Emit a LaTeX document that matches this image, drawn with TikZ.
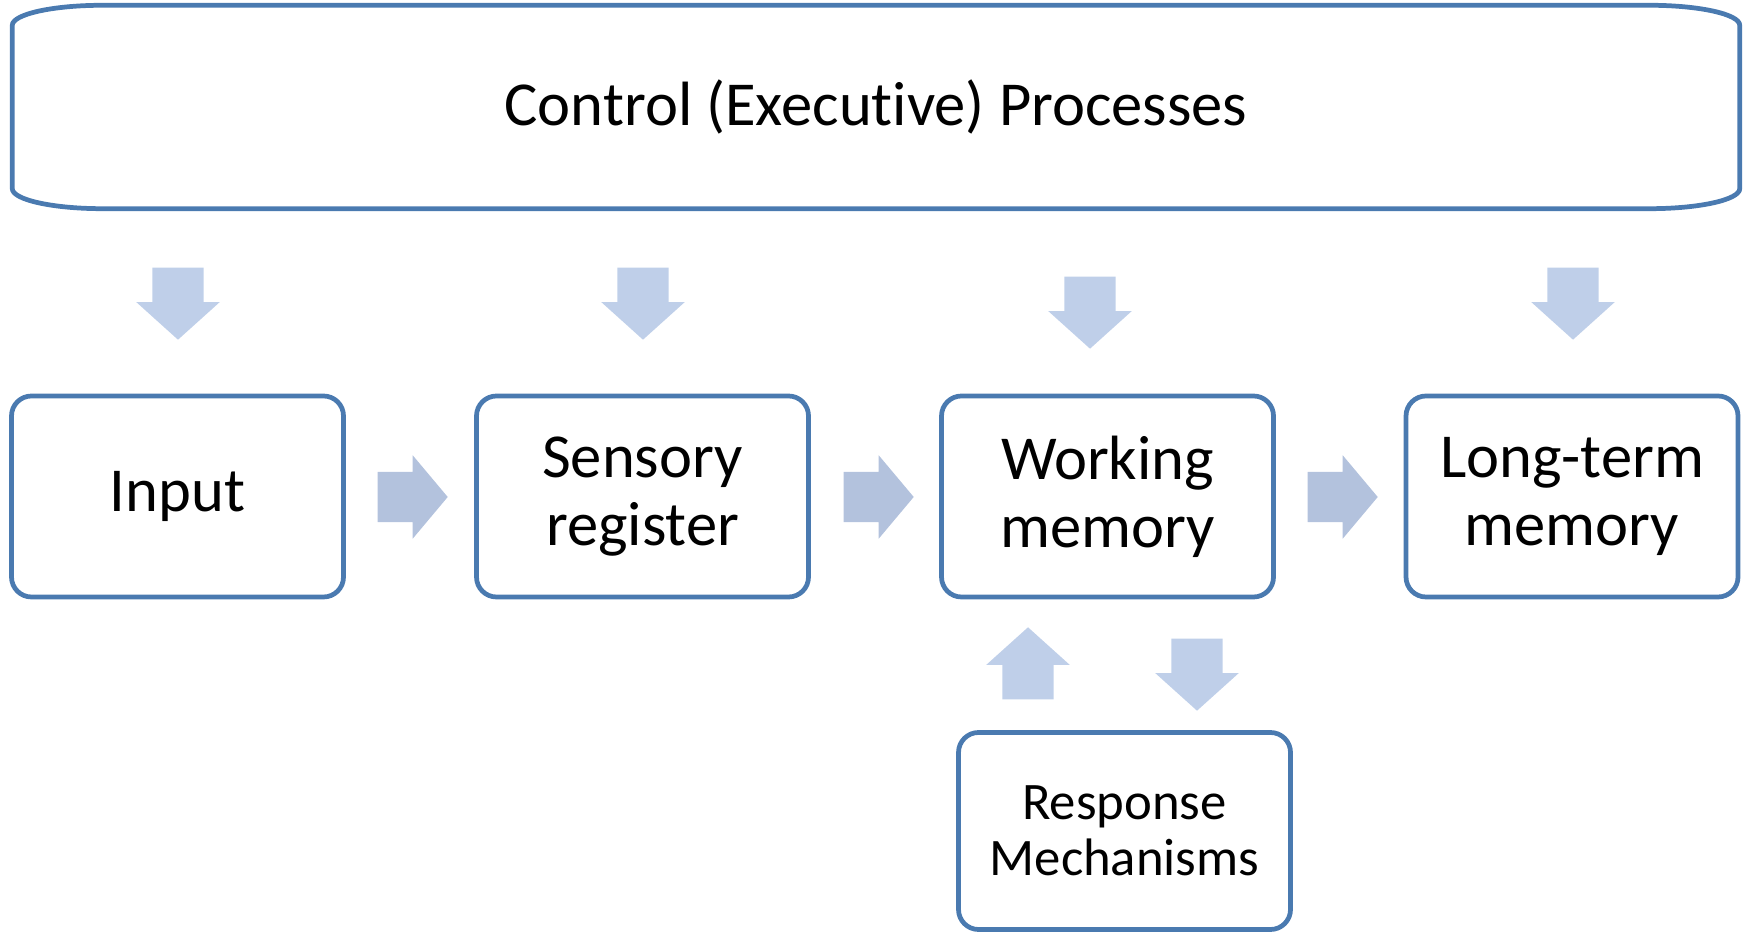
\documentclass[tikz,border=0pt]{standalone}
\usepackage{fontspec}
\setmainfont{Carlito}[Ligatures=NoCommon]
\usepackage{xcolor}
\definecolor{boxblue}{HTML}{4A7AB0}
\definecolor{arrowblue}{HTML}{BFCFE9}
\definecolor{sideblue}{HTML}{B3C2DD}
\usepackage{tikz}
\usetikzlibrary{
  shapes.arrows,
  positioning,
  calc
}

\begin{document}
\begin{tikzpicture}[
  box/.style={rectangle, draw=boxblue, line width=1.35pt, rounded corners=0.2cm, minimum width=3.32cm, minimum height=2.01cm, inner sep=0pt, align=center, font=\fontsize{17.8}{19.3}\selectfont},
  vert/.style={single arrow, fill=arrowblue, draw=none, inner xsep=0pt, inner ysep=0.25cm, minimum width=0.82cm, minimum height=0.72cm, single arrow head extend=0.16cm, single arrow tip angle=96, single arrow head indent=0pt, anchor=tail},
  side/.style={single arrow, fill=sideblue, draw=none, inner xsep=0pt, inner ysep=0.245cm, minimum width=0.82cm, minimum height=0.70cm, single arrow head extend=0.165cm, single arrow tip angle=100, single arrow head indent=0pt, anchor=tail},
  down/.style={vert, rotate=-90},
  up/.style={vert, rotate=90}
]
  \useasboundingbox (0,0) rectangle (17.5,9.33);

  % executive box with flat elliptic corners
  \node[minimum width=17.26cm, minimum height=2.02cm, inner sep=0pt, font=\fontsize{17.8}{19.3}\selectfont] (ctrl) at (8.76,8.26) {Control (Executive) Processes};
  \draw[boxblue, line width=1.35pt]
    ([xshift=0.9cm]ctrl.north west) -- ([xshift=-0.9cm]ctrl.north east)
    arc[start angle=90, end angle=0, x radius=0.9cm, y radius=0.2cm]
    -- ([yshift=0.2cm]ctrl.south east)
    arc[start angle=0, end angle=-90, x radius=0.9cm, y radius=0.2cm]
    -- ([xshift=0.9cm]ctrl.south west)
    arc[start angle=270, end angle=180, x radius=0.9cm, y radius=0.2cm]
    -- ([yshift=-0.2cm]ctrl.north west)
    arc[start angle=180, end angle=90, x radius=0.9cm, y radius=0.2cm]
    -- cycle;

  \node[box] (input) at (1.775,4.365) {Input};
  \node[box] (sensory) at (6.425,4.365) {Sensory\\register};
  \node[box] (working) at (11.075,4.365) {Working\\memory};
  \node[box] (longterm) at (15.72,4.365) {Long-term\\memory};
  \node[box, minimum height=1.97cm, font=\fontsize{15}{16}\selectfont] (response) at (11.245,1.02) {Response\\Mechanisms};

  % control arrows
  \node[down] (ctrlin) at (1.78,6.66) {};
  \node[down] (ctrlsr) at (6.43,6.66) {};
  \node[down] (ctrlwm) at (10.90,6.57) {};
  \node[down] (ctrllt) at (15.73,6.66) {};

  % flow arrows
  \node[side] (insr) at (3.77,4.36) {};
  \node[side] (srwm) at (8.43,4.36) {};
  \node[side] (wmlt) at (13.07,4.36) {};

  % response loop
  \node[up] (rmwm) at (10.28,2.33) {};
  \node[down] (wmrm) at (11.97,2.95) {};
\end{tikzpicture}
\end{document}
